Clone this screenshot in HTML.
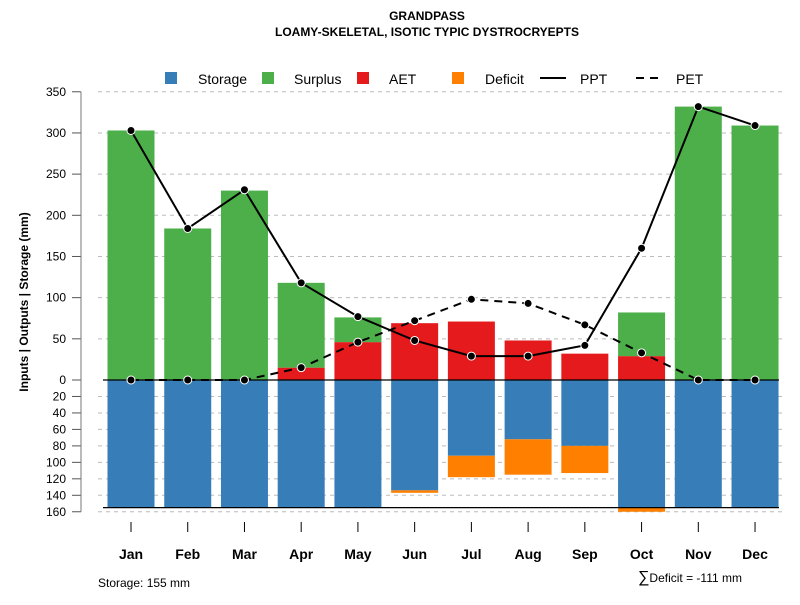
<!DOCTYPE html>
<html><head><meta charset="utf-8"><style>
body{margin:0;background:#fff}
text{font-family:"Liberation Sans",sans-serif}
</style></head><body>
<svg id="c" width="800" height="600" xmlns="http://www.w3.org/2000/svg">
<text x="427" y="20" text-anchor="middle" font-size="12" font-weight="bold">GRANDPASS</text>
<text x="427" y="36" text-anchor="middle" font-size="12" font-weight="bold">LOAMY-SKELETAL, ISOTIC TYPIC DYSTROCRYEPTS</text>
<g id="legend">
<rect x="165" y="72" width="12" height="12" fill="#377eb8"/>
<text x="198" y="84" font-size="14">Storage</text>
<rect x="262" y="72" width="12" height="12" fill="#4daf4a"/>
<text x="294" y="84" font-size="14">Surplus</text>
<rect x="357" y="72" width="12" height="12" fill="#e41a1c"/>
<text x="389" y="84" font-size="14">AET</text>
<rect x="452" y="72" width="12" height="12" fill="#ff7f00"/>
<text x="485" y="84" font-size="14">Deficit</text>
<line x1="540" y1="78" x2="566" y2="78" stroke="#000" stroke-width="2"/>
<text x="580" y="84" font-size="14">PPT</text>
<line x1="636" y1="78" x2="662" y2="78" stroke="#000" stroke-width="2" stroke-dasharray="8,6"/>
<text x="676" y="84" font-size="14">PET</text>
</g>
<text transform="translate(28,302) rotate(-90)" text-anchor="middle" font-size="12" font-weight="bold">Inputs | Outputs | Storage    (mm)</text>
<text x="98" y="587" font-size="12">Storage: 155 mm</text>
<text x="638" y="582" font-size="12"><tspan font-size="16">∑</tspan>Deficit = -111 mm</text>
<g id="grid"></g><g id="bars"></g><g id="lines"></g><g id="axes"></g>
</svg>
<script>
const months=["Jan","Feb","Mar","Apr","May","Jun","Jul","Aug","Sep","Oct","Nov","Dec"];
const ppt=[303,184,231,118,77,48,29,29,42,160,332,309];
const pet=[0,0,0,15,46,72,98,93,67,33,0,0];
const aet=[0,0,0,15,46,69,71,48,32,29,0,0];
const surplus=[303,184,230,103,30,0,0,0,0,53,332,309];
const storage=[155,155,155,155,155,134,92,72,80,155,155,155];
const deficit=[0,0,0,0,0,3,26,43,33,5,0,0];
const upTicks=[0,50,100,150,200,250,300,350];
const downTicks=[20,40,60,80,100,120,140,160];
const NS="http://www.w3.org/2000/svg";
const Y0=380,K=0.8235;
const yU=v=>Y0-v*K, yD=v=>Y0+v*K;
const xC=i=>131+i*56.73, BW=47;
function mk(p,t,a){const e=document.createElementNS(NS,t);for(const k in a)e.setAttribute(k,a[k]);document.getElementById(p).appendChild(e);return e;}
upTicks.forEach(t=>{
 if(t>0){const g=mk('grid','line',{x1:98,x2:783,y1:yU(t),y2:yU(t),stroke:'#bbb','stroke-dasharray':'4,4'});
 
 }
 const tk=mk('axes','line',{x1:72,x2:81,y1:yU(t),y2:yU(t),stroke:'#555'});
 
 
 const l=mk('axes','text',{x:66,y:yU(t)+4,'text-anchor':'end','font-size':12});l.textContent=t;
 
 
});
downTicks.forEach(t=>{
 const g=mk('grid','line',{x1:98,x2:783,y1:yD(t),y2:yD(t),stroke:'#bbb','stroke-dasharray':'4,4'});
 
 
 const tk=mk('axes','line',{x1:72,x2:81,y1:yD(t),y2:yD(t),stroke:'#555'});
 
 
 const l=mk('axes','text',{x:66,y:yD(t)+4,'text-anchor':'end','font-size':12});l.textContent=t;
 
 
});
const ax=mk('axes','line',{x1:81,x2:81,y1:yU(350),y2:yD(160),stroke:'#777'});


months.forEach((m,i)=>{
 const x=xC(i)-BW/2;
 const r1=mk('bars','rect',{x:x,y:yU(aet[i]),width:BW,height:aet[i]*K,fill:'#e41a1c'});
 
 
 const r2=mk('bars','rect',{x:x,y:yU(aet[i]+surplus[i]),width:BW,height:surplus[i]*K,fill:'#4daf4a'});
 
 
 const r3=mk('bars','rect',{x:x,y:Y0,width:BW,height:storage[i]*K,fill:'#377eb8'});
 
 
 const r4=mk('bars','rect',{x:x,y:yD(storage[i]),width:BW,height:deficit[i]*K,fill:'#ff7f00'});
 
 
 const tk=mk('axes','line',{x1:xC(i),x2:xC(i),y1:522,y2:532,stroke:'#000'});
 
 
 const l=mk('axes','text',{x:xC(i),y:559,'text-anchor':'middle','font-size':14,'font-weight':'bold'});l.textContent=m;
 
 
});
const zl=mk('lines','line',{x1:103,x2:779,y1:Y0,y2:Y0,stroke:'#000','stroke-width':1.3});


const sl=mk('lines','line',{x1:103,x2:779,y1:yD(155),y2:yD(155),stroke:'#000','stroke-width':1.3});


function series(arr,name,dash){
 const p=mk('lines','polyline',{points:arr.map((v,i)=>xC(i)+','+yU(v)).join(' '),fill:'none',stroke:'#000','stroke-width':2,'stroke-dasharray':dash});
 
 
 arr.forEach((v,i)=>{
  const c=mk('lines','circle',{cx:xC(i),cy:yU(v),r:4,fill:'#000',stroke:'#fff','stroke-width':1});
  
  
 });
}
series(pet,'pet','8,6');
series(ppt,'ppt','none');
</script>
</body></html>
